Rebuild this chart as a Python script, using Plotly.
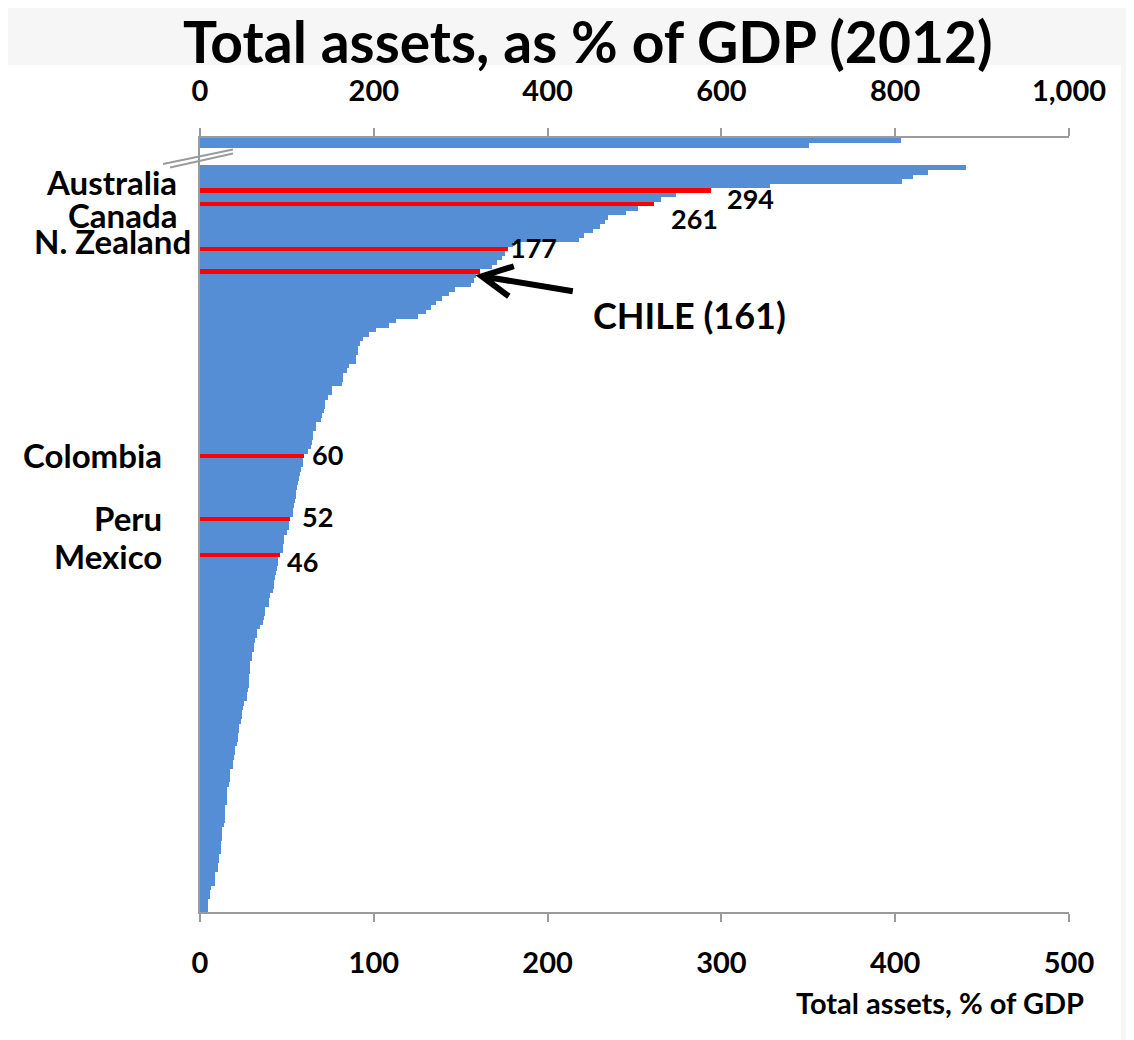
import plotly.graph_objects as go

# ---------------- data ----------------
title_text = "Total assets, as % of GDP (2012)"
axis_title_text = "Total assets, % of GDP"

# two largest countries, read on the top (0-1,000) scale
top_values = [807, 701]

# remaining countries, sorted descending, read on the bottom (0-500) scale
main_values = [
    441, 419, 410, 404, 328, 294, 274, 265, 261, 252,
    245, 235, 233, 230, 226, 221, 218, 180, 177, 175.5,
    173.5, 170.7, 167.8, 161, 159, 157.5, 156, 147, 143, 139,
    136, 133, 130, 125.6, 113, 109, 101, 97, 94, 92,
    91, 90.7, 90, 89.5, 86, 84.4, 82.4, 82, 81.5, 76,
    75.8, 73.8, 72, 71.8, 71.5, 70, 69.8, 67, 66.5, 65.2,
    65, 64.5, 64, 62, 60, 59.4, 59, 58, 57.6, 57.2,
    56.5, 56, 55.5, 55.2, 54.5, 54, 53.5, 53.3, 52, 51.4,
    51, 50, 48.5, 48.2, 48, 47.5, 46, 45, 44.8, 44.5,
    44, 43, 42.8, 42.5, 42, 40, 39.7, 39.5, 37.5, 37.4,
    37, 36.5, 34.5, 33, 32.6, 31.5, 31, 30.8, 30, 29.7,
    28.8, 28.6, 28.5, 28.4, 28.2, 28, 27.8, 27, 26.9, 25.3,
    25, 24.2, 24, 23.8, 22.6, 22.5, 21.7, 21.6, 21.5, 20.1,
    20, 19.8, 18.8, 18.7, 17.3, 17.2, 17, 16.9, 15.7, 15.6,
    15.5, 15.4, 14.4, 14.3, 14.2, 14.1, 14, 12.9, 12.8, 12.7,
    11.95, 11.9, 11.8, 10.75, 10.7, 10.6, 10.5, 8.6, 8.5, 8.4,
    6.1, 6, 5.9, 4.8, 4.7, 4.5,
]

highlight_labels = ["Australia", "Canada", "N. Zealand", "CHILE", "Colombia", "Peru", "Mexico"]
highlight_values = [294, 261, 177, 161, 60, 52, 46]

bottom_ticks = [0, 100, 200, 300, 400, 500]
top_ticks = [0, 200, 400, 600, 800, 1000]

# ---------------- geometry / style ----------------
PAGE_OFF = 8                       # browser default body margin
W, H = 1134 - PAGE_OFF, 1040 - PAGE_OFF
# plot area in page pixels
L, R, T, B = 200, 1069, 138, 912
BLUE = "#558ED5"
RED = "#FF0000"
GRAY = "#9B9B9B"
FONT = "Lato"

MAIN_OFFSET = 6          # rows reserved above the main bars (top bars + gap)
TOP_PITCH = 1.11
Y_RANGE = [171.39, -0.61]

main_pos = [MAIN_OFFSET + i for i in range(len(main_values))]
top_pos = [i * TOP_PITCH for i in range(len(top_values))]
hl_pos = [main_pos[main_values.index(v)] for v in highlight_values]


def pxx(xp):
    return (xp - L) / (R - L)


def pxy(yp):
    return (B - yp) / (B - T)


def data_to_px(v, u):
    x = L + v / 500 * (R - L)
    y = T + (u - Y_RANGE[1]) / (Y_RANGE[0] - Y_RANGE[1]) * (B - T)
    return x, y


fig = go.Figure()

fig.add_trace(go.Bar(
    x=main_values, y=main_pos, orientation="h", width=1.03,
    marker=dict(color=BLUE, line=dict(width=0)), xaxis="x", yaxis="y",
    showlegend=False, hoverinfo="x",
))
fig.add_trace(go.Bar(
    x=top_values, y=top_pos, orientation="h", width=TOP_PITCH,
    marker=dict(color=BLUE, line=dict(width=0)), xaxis="x2", yaxis="y",
    showlegend=False, hoverinfo="x",
))
fig.add_trace(go.Bar(
    x=highlight_values, y=hl_pos, orientation="h", width=1.0,
    marker=dict(color=RED, line=dict(width=0)), xaxis="x", yaxis="y",
    showlegend=False, hoverinfo="x+text", text=highlight_labels, textposition="none",
))

annotations = []

# title
annotations.append(dict(
    text=title_text, xref="paper", yref="paper", x=pxx(588), y=pxy(41),
    xanchor="center", yanchor="middle", showarrow=False,
    font=dict(family=FONT, size=57, color="black", weight="bold"),
))
# bottom axis title
annotations.append(dict(
    text=axis_title_text, xref="paper", yref="paper", x=pxx(1086), y=pxy(1003),
    xanchor="right", yanchor="middle", showarrow=False,
    font=dict(family=FONT, size=29, color="black", weight="bold"),
))

# value labels (offsets in pixels relative to bar end)
value_style = {
    "Australia": dict(xshift=40, yshift=-8),
    "Canada": dict(xshift=41, yshift=-14.5),
    "N. Zealand": dict(xshift=26, yshift=1),
    "Colombia": dict(xshift=23, yshift=1),
    "Peru": dict(xshift=27, yshift=2),
    "Mexico": dict(xshift=23, yshift=-7),
}
# country name labels on the left: (right edge px, yshift)
name_style = {
    "Australia": (179, 8.5),
    "Canada": (179, -11.5),
    "N. Zealand": (193, 7.5),
    "Colombia": (164, 1),
    "Peru": (164, 1),
    "Mexico": (164, -1),
}

for lab, val, pos in zip(highlight_labels, highlight_values, hl_pos):
    if lab == "CHILE":
        annotations.append(dict(
            text=f"{lab} ({val})", xref="x", yref="y", x=val, y=pos,
            xanchor="left", yanchor="middle", xshift=111, yshift=-43.5,
            showarrow=False, font=dict(family=FONT, size=36, color="black", weight="bold"),
        ))
        continue
    vs = value_style[lab]
    annotations.append(dict(
        text=f"{val:g}", xref="x", yref="y", x=val, y=pos,
        xanchor="center", yanchor="middle", showarrow=False,
        font=dict(family=FONT, size=27, color="black", weight="bold"), **vs,
    ))
    rx, ys = name_style[lab]
    annotations.append(dict(
        text=lab, xref="paper", yref="y", x=0, y=pos,
        xanchor="right", yanchor="middle", xshift=rx - L, yshift=ys,
        showarrow=False, font=dict(family=FONT, size=33, color="black", weight="bold"),
    ))

shapes = []
# white chart area on light grey page
shapes.append(dict(type="rect", xref="paper", yref="paper",
                   x0=pxx(8), x1=pxx(1121), y0=pxy(65), y1=pxy(1045),
                   fillcolor="white", line=dict(width=0), layer="below"))
# axis break marks
for (x0, y0, x1, y1) in [(163, 164, 233, 149.5), (170, 167.5, 233, 153.5)]:
    shapes.append(dict(type="line", xref="paper", yref="paper",
                       x0=pxx(x0), y0=pxy(y0), x1=pxx(x1), y1=pxy(y1),
                       line=dict(color=GRAY, width=2)))

# arrow pointing to Chile
ci = highlight_labels.index("CHILE")
tx, ty = data_to_px(highlight_values[ci], hl_pos[ci])
tx, ty = tx + 2, ty + 5
tail = (tx + 91, ty + 15)
arm1 = (tx + 32, ty - 10)
arm2 = (tx + 27, ty + 20)
path = (f"M{pxx(tail[0])},{pxy(tail[1])} L{pxx(tx)},{pxy(ty)} "
        f"M{pxx(arm1[0])},{pxy(arm1[1])} L{pxx(tx)},{pxy(ty)} L{pxx(arm2[0])},{pxy(arm2[1])}")
shapes.append(dict(type="path", xref="paper", yref="paper", path=path,
                   line=dict(color="black", width=6)))

tickfont = dict(family=FONT, size=29, color="black", weight="bold")

fig.update_layout(
    width=W, height=H, autosize=False,
    margin=dict(l=L - PAGE_OFF, r=W - (R - PAGE_OFF), t=T - PAGE_OFF,
                b=H - (B - PAGE_OFF), pad=0),
    paper_bgcolor="#F6F6F6", plot_bgcolor="white",
    barmode="overlay", bargap=0,
    showlegend=False,
    xaxis=dict(range=[0, 500], tickvals=bottom_ticks, ticks="outside", ticklen=8,
               tickwidth=2, tickcolor=GRAY, showline=True, linecolor=GRAY, linewidth=2,
               showgrid=False, zeroline=False, tickfont=tickfont, ticklabelstandoff=16,
               fixedrange=True),
    xaxis2=dict(range=[0, 1000], tickvals=top_ticks, tickformat=",", overlaying="x",
                side="top", ticks="outside", ticklen=8, tickwidth=2, tickcolor=GRAY,
                showline=True, linecolor=GRAY, linewidth=2, showgrid=False, zeroline=False,
                tickfont=tickfont, ticklabelstandoff=15, fixedrange=True),
    yaxis=dict(range=Y_RANGE, showticklabels=False, ticks="", showgrid=False,
               zeroline=False, showline=True, linecolor=GRAY, linewidth=2, fixedrange=True),
    annotations=annotations,
    shapes=shapes,
)

fig.write_html("out.html")
